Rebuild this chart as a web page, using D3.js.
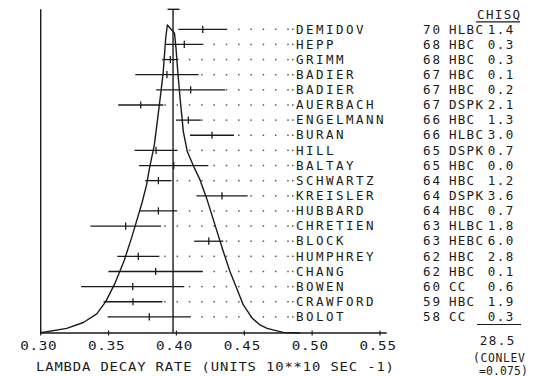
<!DOCTYPE html>
<html>
<head>
<meta charset="utf-8">
<script src="https://cdn.jsdelivr.net/npm/d3@7"></script>
<style>
  html, body { margin: 0; padding: 0; background: #fff; }
  svg { display: block; }
  text { font-family: "DejaVu Sans Mono", monospace; fill: #1a1a1a; }
</style>
</head>
<body>
<svg id="chart" width="534" height="376"></svg>
<script>
// Lambda decay rate measurements (units 10**10 sec^-1), newest first
const names = ["DEMIDOV","HEPP","GRIMM","BADIER","BADIER","AUERBACH","ENGELMANN","BURAN","HILL","BALTAY",
               "SCHWARTZ","KREISLER","HUBBARD","CHRETIEN","BLOCK","HUMPHREY","CHANG","BOWEN","CRAWFORD","BOLOT"];
const years = ["70","68","68","67","67","67","66","66","65","65","64","64","64","63","63","62","62","60","59","58"];
const techniques = ["HLBC","HBC","HBC","HBC","HBC","DSPK","HBC","HLBC","DSPK","HBC",
                    "HBC","DSPK","HBC","HLBC","HEBC","HBC","HBC","CC","HBC","CC"];
const rates = [0.4194,0.4058,0.3955,0.3930,0.4105,0.3737,0.4088,0.4262,0.3850,0.3980,
               0.3867,0.4336,0.3867,0.3626,0.4238,0.3719,0.3847,0.3678,0.3680,0.3800];
const errors = [0.0180,0.0140,0.0060,0.0233,0.0254,0.0166,0.0091,0.0162,0.0158,0.0255,
                0.0097,0.0189,0.0138,0.0260,0.0107,0.0155,0.0348,0.0380,0.0217,0.0307];
const chisq = ["1.4","0.3","0.3","0.1","0.2","2.1","1.3","3.0","0.7","0.0",
               "1.2","3.6","0.7","1.8","6.0","2.8","0.1","0.6","1.9","0.3"];
const chisqTotal = "28.5";
const confidence = ["(CONLEV", "=0.075)"];
const weightedMean = 0.3975;

// Ideogram: [decay rate, relative height]
const ideogram = [
  [0.3000,0.001],[0.3192,0.015],[0.3314,0.034],[0.3413,0.062],[0.3478,0.101],[0.3548,0.162],
  [0.3614,0.234],[0.3669,0.308],[0.3713,0.373],[0.3746,0.422],[0.3780,0.481],[0.3802,0.536],
  [0.3837,0.610],[0.3859,0.686],[0.3886,0.783],[0.3903,0.848],[0.3921,0.957],[0.3933,1.000],
  [0.3986,0.973],[0.3997,0.924],[0.4010,0.848],[0.4027,0.762],[0.4051,0.654],[0.4080,0.589],
  [0.4132,0.536],[0.4174,0.497],[0.4223,0.437],[0.4284,0.351],[0.4346,0.264],[0.4395,0.199],
  [0.4444,0.145],[0.4493,0.091],[0.4561,0.047],[0.4616,0.026],[0.4668,0.015],[0.4786,0.002],
  [0.4911,0.000]
];

const xTicks = [0.30,0.35,0.40,0.45,0.50,0.55];
const xTickLabels = ["0.30","0.35","0.40","0.45","0.50","0.55"];
const xTitle = "LAMBDA DECAY RATE (UNITS 10**10 SEC -1)";

const INK = "#1a1a1a";
const svg = d3.select("#chart");

const x = d3.scaleLinear().domain([0.30, 0.55]).range([40.7, 380]);
const y = d3.scalePoint().domain(d3.range(names.length)).range([29.3, 316.9]);
const h = d3.scaleLinear().domain([0, 1]).range([333, 25]);
const axisY = 333, topY = 9.3;

// Plotter-style lettering: monospace run forced to a fixed character pitch.
// Glyph i starts at start + i*pitch; the last glyph keeps its natural advance.
function label(x0, y0, s, o) {
  const size = o.size, pitch = o.pitch, sx = o.sx || 1.1;
  const adv = 0.602 * size;                   // natural advance, local units
  const glyph = 0.5 * size * sx;              // approximate inked glyph width
  const n = s.length;
  const extent = (n - 1) * pitch + glyph;
  let start = x0;
  if (o.anchor === "middle") start = x0 - extent / 2;
  if (o.anchor === "end") start = x0 - extent;
  const t = svg.append("text")
    .attr("transform", `translate(${start},${y0}) scale(${sx},1)`)
    .attr("font-size", size)
    .attr("xml:space", "preserve")
    .text(s);
  if (n > 1) {
    t.attr("textLength", ((n - 1) * pitch) / sx + adv).attr("lengthAdjust", "spacing");
  }
}

// Leader dots between each bar and its label
const dotStart = 165, dotStep = 12.3, dotEnd = 290;
const dots = [];
names.forEach((_, i) => {
  const barEnd = x(rates[i] + errors[i]);
  for (let dx = dotStart; dx <= dotEnd; dx += dotStep) {
    if (dx > barEnd + 0.5) dots.push([dx, y(i)]);
  }
  dots.push([292.8, y(i)]);
});
svg.append("g").selectAll("rect").data(dots).join("rect")
  .attr("x", d => d[0] - 0.75).attr("y", d => d[1] - 0.75)
  .attr("width", 1.5).attr("height", 1.5).attr("fill", "#555");

// Left frame line and bottom axis
svg.append("line").attr("x1", x(0.30)).attr("x2", x(0.30)).attr("y1", topY).attr("y2", axisY)
  .attr("stroke", INK).attr("stroke-width", 1.4);
svg.append("line").attr("x1", x(0.30)).attr("x2", x(0.555)).attr("y1", axisY).attr("y2", axisY)
  .attr("stroke", INK).attr("stroke-width", 1.4);
svg.append("g").selectAll("line").data(xTicks).join("line")
  .attr("x1", d => x(d)).attr("x2", d => x(d))
  .attr("y1", axisY - 2.5).attr("y2", axisY + 2.5)
  .attr("stroke", INK).attr("stroke-width", 1.2);
xTicks.forEach((t, i) => label(x(t) - 3, 350, xTickLabels[i], {size: 12.4, pitch: 9.3, anchor: "middle", sx: 1.15}));
label(36, 371, xTitle, {size: 12.4, pitch: 9.2, sx: 1.12});

// Weighted mean line with cap
const mx = x(weightedMean);
svg.append("line").attr("x1", mx).attr("x2", mx).attr("y1", topY).attr("y2", axisY)
  .attr("stroke", INK).attr("stroke-width", 1.4);
svg.append("line").attr("x1", mx - 5.5).attr("x2", mx + 6.5).attr("y1", topY).attr("y2", topY)
  .attr("stroke", INK).attr("stroke-width", 1.4);

// Ideogram curve
svg.append("path")
  .datum(ideogram)
  .attr("d", d3.line().x(d => x(d[0])).y(d => h(d[1])))
  .attr("fill", "none").attr("stroke", INK).attr("stroke-width", 1.4)
  .attr("stroke-linejoin", "round");

// Error bars with centre ticks
const bars = svg.append("g");
bars.selectAll("line.bar").data(rates).join("line").attr("class", "bar")
  .attr("x1", (d, i) => x(d - errors[i])).attr("x2", (d, i) => x(d + errors[i]))
  .attr("y1", (d, i) => y(i)).attr("y2", (d, i) => y(i))
  .attr("stroke", INK).attr("stroke-width", 1.3);
bars.selectAll("line.tick").data(rates).join("line").attr("class", "tick")
  .attr("x1", d => x(d)).attr("x2", d => x(d))
  .attr("y1", (d, i) => y(i) - 3.6).attr("y2", (d, i) => y(i) + 3.6)
  .attr("stroke", INK).attr("stroke-width", 1.3);

// Right-hand table: author, year, technique, chi-square
names.forEach((n, i) => {
  const by = y(i) + 4.2;
  label(296, by, n, {size: 11.4, pitch: 10.0});
  label(423, by, years[i], {size: 11.4, pitch: 9.4});
  label(449, by, techniques[i], {size: 11.4, pitch: 8.8});
  label(512, by, chisq[i], {size: 11.4, pitch: 9.0, anchor: "end"});
});
label(477, 18.5, "CHISQ", {size: 11.4, pitch: 8.9});
svg.append("line").attr("x1", 476).attr("x2", 520).attr("y1", 21.8).attr("y2", 21.8)
  .attr("stroke", INK).attr("stroke-width", 1.2);
svg.append("line").attr("x1", 477).attr("x2", 521).attr("y1", 324.5).attr("y2", 324.5)
  .attr("stroke", INK).attr("stroke-width", 1.2);
label(513, 345, chisqTotal, {size: 11.4, pitch: 9.0, anchor: "end"});
label(473, 362, confidence[0], {size: 11.4, pitch: 7.5, sx: 1.0});
label(479, 374.5, confidence[1], {size: 11.4, pitch: 7.0, sx: 1.0});
</script>
</body>
</html>
